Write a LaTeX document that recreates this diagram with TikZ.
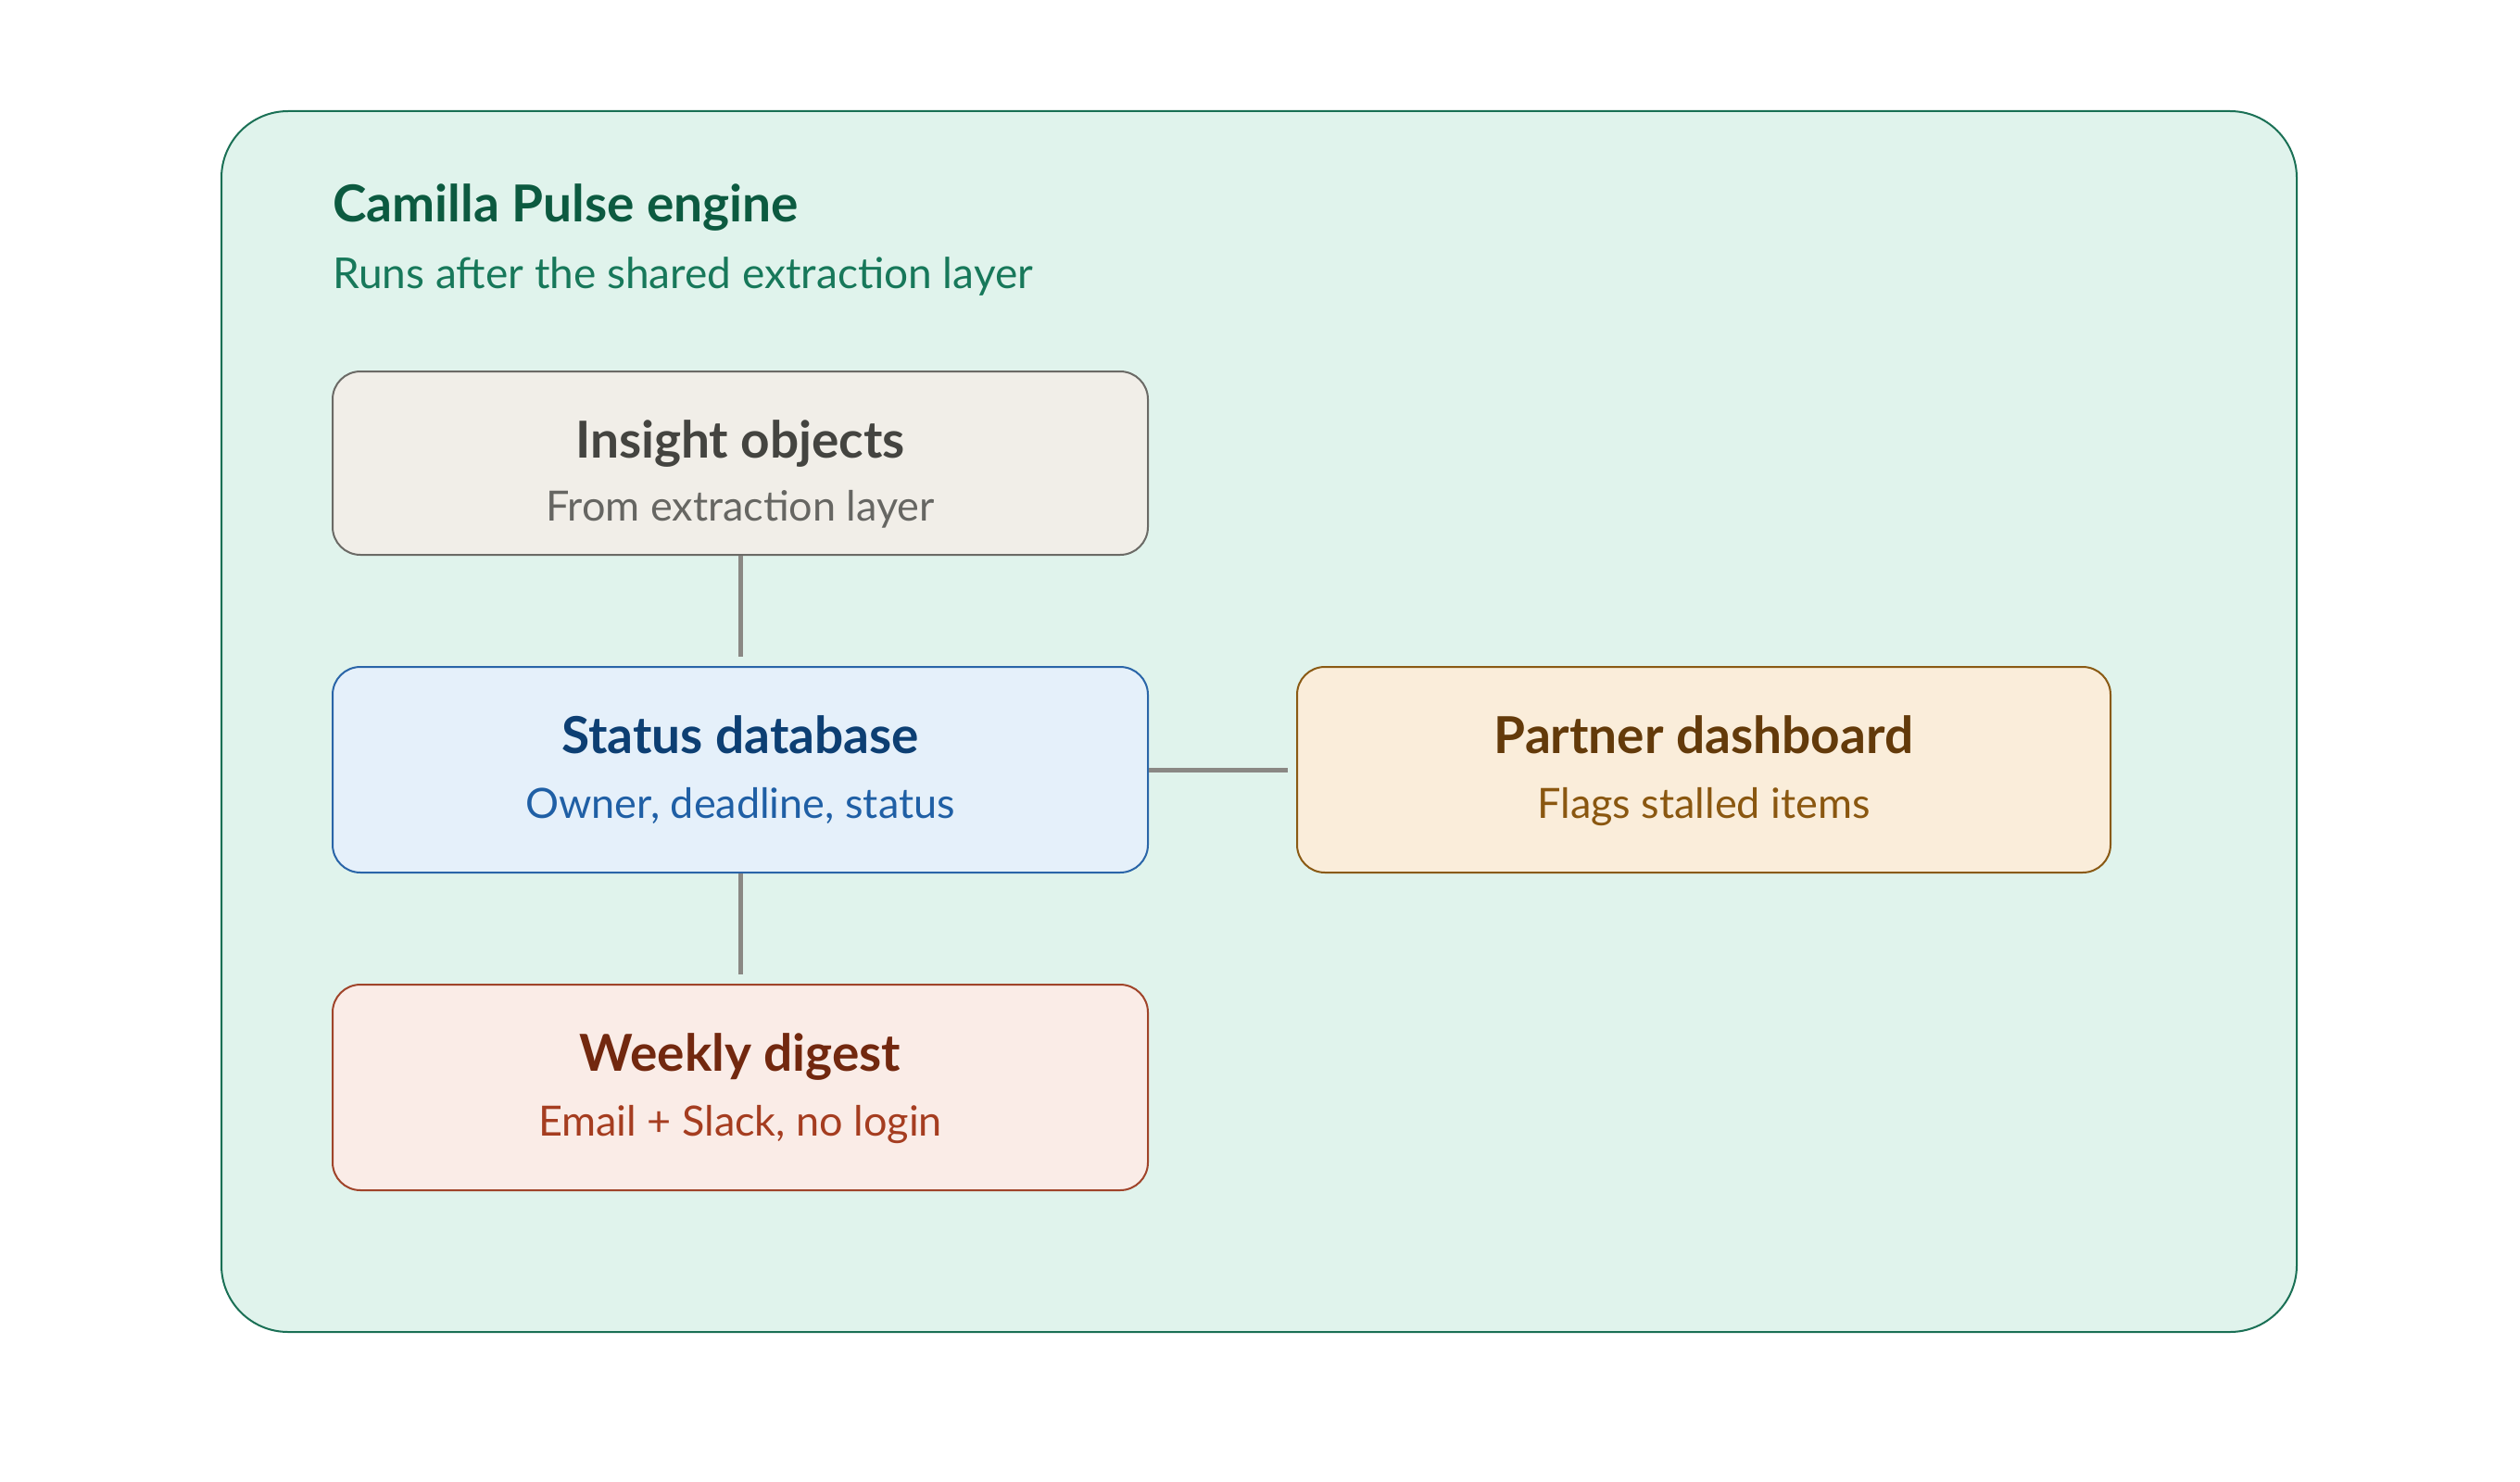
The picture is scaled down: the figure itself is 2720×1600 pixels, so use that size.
\documentclass[tikz,border=0pt]{standalone}
\usepackage{fontspec}
\setmainfont{Lato}
\usetikzlibrary{calc}
\definecolor{outerfill}{HTML}{E0F3EC}
\definecolor{outerdraw}{HTML}{1A7055}
\definecolor{outertitle}{HTML}{0C5A40}
\definecolor{outersub}{HTML}{17785A}
\definecolor{grayfill}{HTML}{F1EEE8}
\definecolor{graydraw}{HTML}{6B6A66}
\definecolor{graytitle}{HTML}{444440}
\definecolor{graysub}{HTML}{666662}
\definecolor{bluefill}{HTML}{E5F0FA}
\definecolor{bluedraw}{HTML}{2A65A8}
\definecolor{bluetitle}{HTML}{0D3F73}
\definecolor{bluesub}{HTML}{1F5FA5}
\definecolor{orfill}{HTML}{FAEDDA}
\definecolor{ordraw}{HTML}{8A5A14}
\definecolor{ortitle}{HTML}{633A0A}
\definecolor{orsub}{HTML}{8A5710}
\definecolor{redfill}{HTML}{FAECE7}
\definecolor{reddraw}{HTML}{A0442A}
\definecolor{redtitle}{HTML}{72280F}
\definecolor{redsub}{HTML}{A53D20}
\definecolor{linkgray}{HTML}{8A8884}
\tikzset{
  cardbox/.style={rounded corners=15pt, line width=1pt, minimum width=440pt, inner sep=0pt},
  boxtitle/.style={anchor=base, font=\fontsize{27.5}{30}\selectfont\bfseries, inner sep=0pt},
  boxsub/.style={anchor=base, font=\fontsize{22.5}{26}\selectfont, inner sep=0pt},
  link/.style={draw=linkgray, line width=2.5pt},
}
\begin{document}
\begin{tikzpicture}[x=0.5pt,y=-0.5pt]
\useasboundingbox (0,0) rectangle (2720,1600);
\fill[white] (0,0) rectangle (2720,1600);
\node[draw=outerdraw, fill=outerfill, line width=1pt, rounded corners=36pt, minimum width=1120pt, minimum height=659pt, inner sep=0pt] (outer) at (1359,779) {};
\node[anchor=base west, inner sep=0pt, text=outertitle, font=\fontsize{27.5}{32}\selectfont\bfseries] (title) at (359,239) {Camilla Pulse engine};
\node[anchor=base west, inner sep=0pt, text=outersub, font=\fontsize{23}{26}\selectfont] (subtitle) at (359,311) {Runs after the shared extraction layer};

\node[cardbox, draw=graydraw, fill=grayfill, minimum height=99pt] (insight) at (799,500) {};
\node[cardbox, draw=bluedraw, fill=bluefill, minimum height=111pt] (status) at (799,831) {};
\node[cardbox, draw=ordraw, fill=orfill, minimum height=111pt, minimum width=439pt] (partner) at (1839,831) {};
\node[cardbox, draw=reddraw, fill=redfill, minimum height=111pt] (weekly) at (799,1174) {};

\node[boxtitle, text=graytitle] (insightT) at (799,494) {Insight objects};
\node[boxsub, text=graysub] (insightS) at (799,562) {From extraction layer};
\node[boxtitle, text=bluetitle] (statusT) at (799,813) {Status database};
\node[boxsub, text=bluesub] (statusS) at (799,883) {Owner, deadline, status};
\node[boxtitle, text=ortitle] (partnerT) at (1839,813) {Partner dashboard};
\node[boxsub, text=orsub] (partnerS) at (1839,883) {Flags stalled items};
\node[boxtitle, text=redtitle] (weeklyT) at (799,1156) {Weekly digest};
\node[boxsub, text=redsub] (weeklyS) at (799,1226) {Email + Slack, no login};

\coordinate (e1) at ($(status.north)+(0pt,5pt)$);
\coordinate (e2) at ($(weekly.north)+(0pt,5pt)$);
\coordinate (e3) at ($(partner.west)+(-4.5pt,0pt)$);
\draw[link] (insight.south) -- (e1);
\draw[link] (status.south) -- (e2);
\draw[link] (status.east) -- (e3);
\end{tikzpicture}
\end{document}
